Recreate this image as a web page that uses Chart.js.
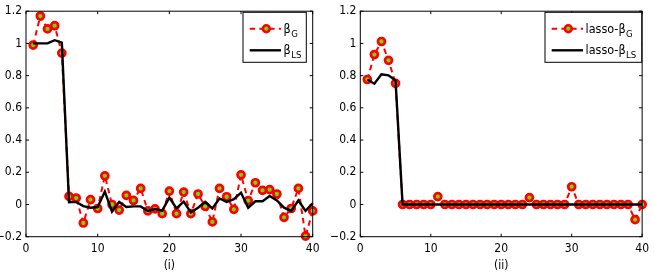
<!DOCTYPE html>
<html><head><meta charset="utf-8">
<script src="https://cdn.jsdelivr.net/npm/chart.js@4.4.1/dist/chart.umd.min.js"></script>
<style>
html,body{margin:0;padding:0;background:#fff;}
#wrap{position:relative;width:654px;height:273px;overflow:hidden;}
.c{position:absolute;top:0;height:273px;}
</style></head><body>
<div id="wrap">
<div class="c" style="left:0;width:330px"><canvas id="c1"></canvas></div>
<div class="c" style="left:330px;width:324px"><canvas id="c2"></canvas></div>
</div>
<script>
// ---- data ----
const indices = [1,2,3,4,5,6,7,8,9,10,11,12,13,14,15,16,17,18,19,20,21,22,23,24,25,26,27,28,29,30,31,32,33,34,35,36,37,38,39,40];
const betaG = [0.99,1.17,1.09,1.11,0.94,0.05,0.04,-0.115,0.03,-0.025,0.178,0.0,-0.035,0.057,0.025,0.10,-0.04,-0.027,-0.057,0.083,-0.057,0.077,-0.057,0.065,-0.012,-0.108,0.10,0.048,-0.03,0.184,0.024,0.135,0.088,0.092,0.065,-0.08,-0.025,0.10,-0.196,-0.04];
const betaLS = [1.0,1.0,1.0,1.02,1.005,0.014,0.016,-0.01,-0.02,-0.016,0.08,-0.045,0.016,-0.016,-0.012,-0.012,-0.04,-0.028,-0.038,0.043,-0.024,0.018,-0.049,-0.02,0.016,-0.024,0.037,0.016,0.033,0.073,-0.02,0.02,0.02,0.053,0.025,-0.02,-0.04,0.025,-0.04,0.008];
const lassoBetaG = [0.776,0.931,1.012,0.895,0.752,0,0,0,0,0,0.049,0,0,0,0,0,0,0,0,0,0,0,0,0.043,0,0,0,0,0,0.11,0,0,0,0,0,0,0,0,-0.094,0];
const lassoBetaLS = [0.776,0.75,0.808,0.802,0.770,0,0,0,0,0,0,0,0,0,0,0,0,0,0,0,0,0,0,0,0,0,0,0,0,0,0,0,0,0,0,0,0,0,0,0];
const xTickValues = [0,10,20,30,40];
const yTickValues = [-0.2,0,0.2,0.4,0.6,0.8,1.0,1.2];
const yTickLabels = ['\u22120.2','0','0.2','0.4','0.6','0.8','1','1.2'];
const panelTitles = ['(i)','(ii)'];
const legendLabels = [[['\u03b2','G'],['\u03b2','LS']],[['lasso-\u03b2','G'],['lasso-\u03b2','LS']]];

const FONT = "'Liberation Sans Narrow','DejaVu Sans Condensed','Liberation Sans',Arial,sans-serif";
const RED = '#ff0000', GREEN = '#66e000';

function pts(ys){ return indices.map((x,i)=>({x:x,y:ys[i]})); }

const frame = {
  id:'frame',
  afterDraw(chart){
    const o = chart.options.plugins.frame;
    const {ctx, chartArea:a, scales:{x,y}} = chart;
    ctx.save();
    ctx.strokeStyle='#000'; ctx.lineWidth=1;
    ctx.strokeRect(a.left, a.top, a.right-a.left, a.bottom-a.top);
    const tl=3;
    ctx.beginPath();
    xTickValues.forEach(t=>{const p=x.getPixelForValue(t);
      ctx.moveTo(p,a.bottom);ctx.lineTo(p,a.bottom-tl);ctx.moveTo(p,a.top);ctx.lineTo(p,a.top+tl);});
    yTickValues.forEach(t=>{const p=y.getPixelForValue(t);
      ctx.moveTo(a.left,p);ctx.lineTo(a.left+tl,p);ctx.moveTo(a.right,p);ctx.lineTo(a.right-tl,p);});
    ctx.stroke();
    // legend
    const L=o.box; 
    ctx.fillStyle='#fff'; ctx.fillRect(L.x,L.y,L.w,L.h);
    ctx.strokeStyle='#000'; ctx.lineWidth=1; ctx.strokeRect(L.x,L.y,L.w,L.h);
    const rows=[L.y+16.4, L.y+38];
    const x0=L.x+6.7, x1=L.x+38, xm=L.x+23.3, xt=L.x+40.5;
    // row 1: dashed + marker
    ctx.strokeStyle=RED; ctx.lineWidth=2; ctx.setLineDash([5.5,4.2]);
    ctx.beginPath(); ctx.moveTo(x0,rows[0]); ctx.lineTo(x1,rows[0]); ctx.stroke();
    ctx.setLineDash([]);
    ctx.beginPath(); ctx.arc(xm,rows[0],3.4,0,Math.PI*2); ctx.fillStyle=GREEN; ctx.fill();
    ctx.lineWidth=2.6; ctx.strokeStyle=RED; ctx.stroke();
    // row 2: black line
    ctx.strokeStyle='#000'; ctx.lineWidth=2.4;
    ctx.beginPath(); ctx.moveTo(x0,rows[1]); ctx.lineTo(x1,rows[1]); ctx.stroke();
    ctx.fillStyle='#000'; ctx.textBaseline='alphabetic'; ctx.textAlign='left';
    o.labels.forEach((lab,i)=>{
      ctx.font='12.5px '+FONT;
      ctx.fillText(lab[0], xt, rows[i]+4);
      const w=ctx.measureText(lab[0]).width;
      ctx.font='9.5px '+FONT;
      ctx.fillText(lab[1], xt+w+0.5, rows[i]+8);
    });
    ctx.restore();
  }
};

function makeChart(id, gData, lsData, yW, padR, box, labels, title){
  return new Chart(document.getElementById(id), {
    type:'line',
    data:{datasets:[
      {label:'G', data:pts(gData), borderColor:RED, borderWidth:2, borderDash:[5.5,4.2],
       pointRadius:3.5, pointBorderWidth:2.7, pointBackgroundColor:GREEN, pointBorderColor:RED,
       pointHoverRadius:3.5, tension:0, fill:false, order:2, clip:false},
      {label:'LS', data:pts(lsData), borderColor:'#000', borderWidth:2.4, pointRadius:0,
       tension:0, fill:false, order:1, clip:false}
    ]},
    options:{
      responsive:true, maintainAspectRatio:false, animation:false, events:[],
      layout:{padding:{left:0, top:7.7, right:padR, bottom:0}},
      plugins:{legend:{display:false}, tooltip:{enabled:false},
        frame:{box:box, labels:labels}},
      scales:{
        x:{type:'linear', min:0, max:40,
          afterBuildTicks(s){ s.ticks = xTickValues.map(v=>({value:v})); },
          afterFit(s){ s.height = 36.3; },
          grid:{display:false, drawTicks:false}, border:{display:false},
          ticks:{color:'#000', padding:5, font:{family:FONT, size:12}, maxRotation:0},
          title:{display:true, text:title, color:'#000', font:{family:FONT, size:12}, padding:{top:0,bottom:0}}
        },
        y:{type:'linear', min:-0.2, max:1.2,
          afterBuildTicks(s){ s.ticks = yTickValues.map(v=>({value:v})); },
          afterFit(s){ s.width = yW; },
          grid:{display:false, drawTicks:false}, border:{display:false},
          ticks:{color:'#000', padding:4, font:{family:FONT, size:12},
            callback:(v,i)=>yTickLabels[i]}
        }
      }
    },
    plugins:[frame]
  });
}

makeChart('c1', betaG, betaLS, 26, 17.3, {x:243,y:12.3,w:63.3,h:50}, legendLabels[0], panelTitles[0]);
makeChart('c2', lassoBetaG, lassoBetaLS, 30.3, 8, {x:215,y:12.3,w:96.7,h:50}, legendLabels[1], panelTitles[1]);
</script>
</body></html>
